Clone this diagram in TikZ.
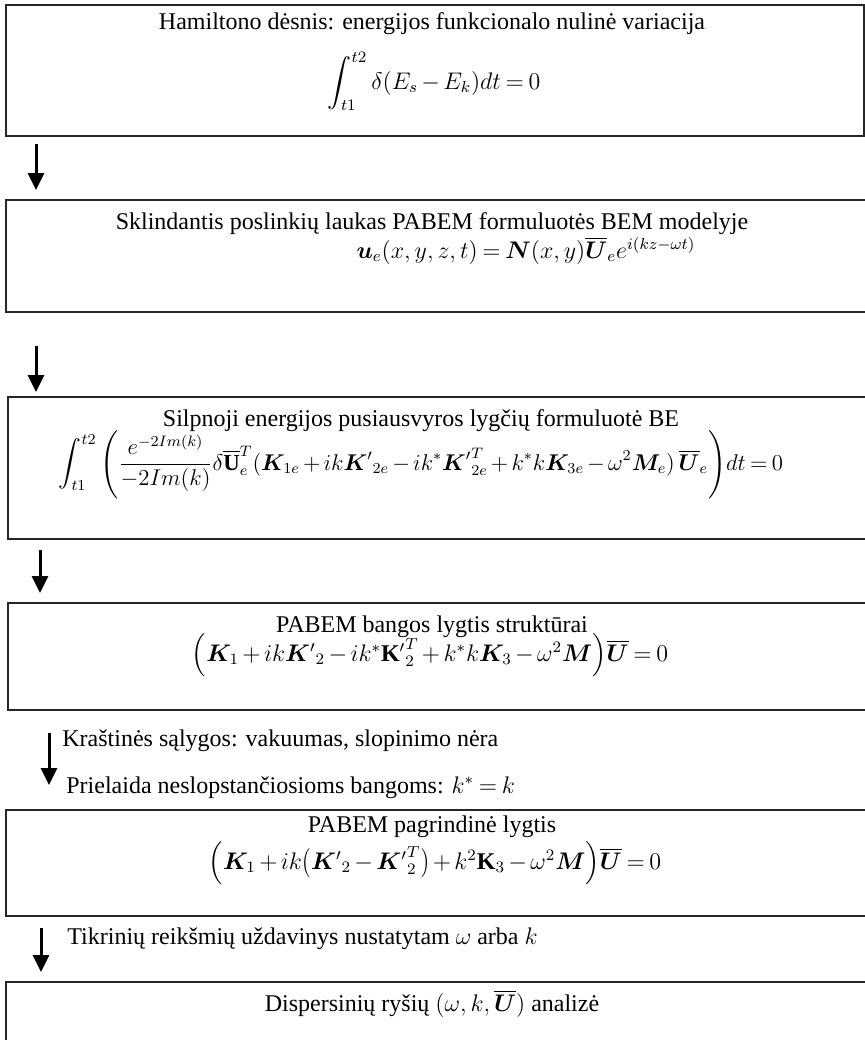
\documentclass[tikz,border=0pt]{standalone}
\usepackage{amsmath,bm,graphicx}
\usepackage{fontspec}
\setmainfont{Liberation Serif}
\usetikzlibrary{arrows.meta}
\medmuskip=2.5mu plus 1mu minus 1mu
\thickmuskip=3.5mu plus 2mu
\newcommand\mylpar{\mathopen{\raisebox{-0.6pt}{\scalebox{1}[1.22]{$($}}}}
\newcommand\myrpar{\mathclose{\raisebox{-0.6pt}{\scalebox{1}[1.22]{$)$}}}}
\begin{document}
\begin{tikzpicture}[x=0.5pt,y=-0.5pt,
  box/.style={draw=black!85,line width=0.9pt,anchor=north west,inner sep=0pt,outer sep=0pt},
  txt/.style={font=\fontsize{12}{14}\selectfont,anchor=base,inner sep=0pt},
  eq/.style={font=\fontsize{12}{14}\selectfont,anchor=base,inner sep=0pt},
  lbl/.style={font=\fontsize{12}{14}\selectfont,anchor=base west,inner sep=0pt},
  arr/.style={line width=1.5pt,-{Triangle[width=8pt,length=8.5pt]}}]
\useasboundingbox (0,0) rectangle (865,1040);
\clip (0,0) rectangle (865,1040);
% boxes
\node[box,minimum width=429pt,minimum height=65.5pt] (b1) at (6,5) {};
\node[box,minimum width=440pt,minimum height=56pt] (b2) at (6,200) {};
\node[box,minimum width=440pt,minimum height=71pt] (b3) at (8,397) {};
\node[box,minimum width=440pt,minimum height=53.5pt] (b4) at (8,603) {};
\node[box,minimum width=440pt,minimum height=53pt] (b5) at (6,810) {};
\node[box,minimum width=440pt,minimum height=60pt] (b6) at (6,982) {};
% texts
\node[txt] (t1) at (432,29) {Hamiltono dėsnis: energijos funkcionalo nulinė variacija};
\node[eq] (e1) at (434,89) {$\displaystyle\int_{t1}^{t2}\delta(E_s-E_k)dt=0$};
\node[txt] (t2) at (432,229) {Sklindantis poslinkių laukas PABEM formuluotės BEM modelyje};
\node[eq] (e2) at (526,258) {$\bm{u}_e(x,y,z,t)=\bm{N}(x,y)\overline{\bm{U}}_e e^{i(kz-\omega t)}$};
\node[txt] (t3) at (421,426) {Silpnoji energijos pusiausvyros lygčių formuluotė BE};
\node[eq,scale=0.95] (e3) at (421,470) {$\displaystyle\int_{t1}^{t2}\Bigg(\frac{e^{-2Im(k)}}{-2Im(k)}\delta\overline{\mathbf{U}}_e^T(\bm{K}_{1e}+ik{\bm{K}'}_{2e}-ik^*{\bm{K}'}^T_{2e}+k^*k\bm{K}_{3e}-\omega^2\bm{M}_e)\,\overline{\bm{U}}_e\Bigg)dt=0$};
\node[txt] (t4) at (432,632) {PABEM bangos lygtis struktūrai};
\node[eq] (e4) at (430,661) {$\Big(\bm{K}_1+ik{\bm{K}'}_2-ik^*{\mathbf{K}'}^T_2+k^*k\bm{K}_3-\omega^2\bm{M}\Big)\overline{\bm{U}}=0$};
\node[txt] (t5) at (432,832) {PABEM pagrindinė lygtis};
\node[eq] (e5) at (435,869) {$\Big(\bm{K}_1+ik\mylpar{\bm{K}'}_2-{\bm{K}'}^T_2\myrpar+k^2\mathbf{K}_3-\omega^2\bm{M}\Big)\overline{\bm{U}}=0$};
\node[txt] (t6) at (432,1011) {Dispersinių ryšių $(\omega,k,\overline{\bm{U}})$ analizė};
% side labels
\node[lbl] (l1) at (62,746) {Kraštinės sąlygos: vakuumas, slopinimo nėra};
\node[lbl] (l2) at (66,793) {Prielaida neslopstančiosioms bangoms: $k^*=k$};
\node[lbl] (l3) at (67,944) {Tikrinių reikšmių uždavinys nustatytam $\omega$ arba $k$};
% arrows
\coordinate (a1s) at (36,144); \coordinate (a1e) at (36,190);
\coordinate (a2s) at (36,346); \coordinate (a2e) at (36,392);
\coordinate (a3s) at (40,550); \coordinate (a3e) at (40,593);
\coordinate (a4s) at (49,733); \coordinate (a4e) at (49,785);
\coordinate (a5s) at (41,928); \coordinate (a5e) at (41,972);
\draw[arr] (a1s) -- (a1e);
\draw[arr] (a2s) -- (a2e);
\draw[arr] (a3s) -- (a3e);
\draw[arr] (a4s) -- (a4e);
\draw[arr] (a5s) -- (a5e);
\end{tikzpicture}
\end{document}
